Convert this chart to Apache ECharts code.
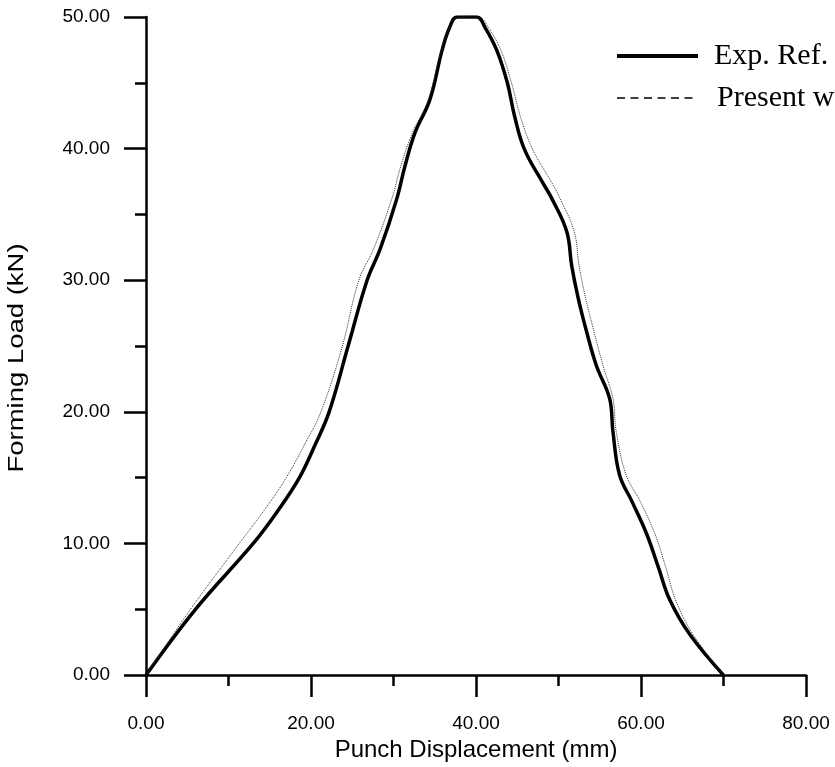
<!DOCTYPE html>
<html>
<head>
<meta charset="utf-8">
<script src="https://cdn.jsdelivr.net/npm/echarts@6/dist/echarts.min.js"></script>
<style>
  html, body { margin: 0; padding: 0; background: #fff; }
  #main { width: 835px; height: 767px; }
</style>
</head>
<body>
<div id="main"></div>
<script>
// measured curve: [displacement mm, load kN]
var expRef = [
  [0, 0], [6.0, 5], [13.0, 10], [16.0, 12.5], [18.6, 15], [20.5, 17.5], [22.2, 20], [24.5, 25],
  [26.8, 30], [28.4, 32.4], [30.4, 36.2], [31.4, 38.7], [32.6, 41.2], [34.4, 43.7],
  [35.9, 47.5], [36.8, 49.2], [37.7, 50], [40.1, 50], [41.1, 49.2], [42.5, 47.5],
  [43.8, 45], [44.7, 42.4], [45.9, 39.9], [48.1, 37.4], [49.2, 36.2], [51.0, 33.7],
  [51.6, 31.1], [52.4, 28.6], [53.4, 26.1], [54.6, 23.5], [56.2, 21.0], [56.6, 18.5],
  [57.4, 15.2], [58.9, 13.2], [60.7, 10.7], [62.1, 8.2], [63.5, 5.7], [65.9, 3.1],
  [70.0, 0]
];
// simulation curve
var presentWork = [
  [0, 0], [5.4, 5], [11.3, 10], [14.3, 12.5], [17.0, 15], [19.2, 17.5], [21.2, 20], [23.8, 25],
  [25.8, 30], [27.6, 32.4], [29.8, 36.2], [30.9, 38.7], [32.3, 41.2], [34.2, 43.7],
  [35.8, 47.5], [36.8, 49.2], [37.8, 50], [40.3, 50], [41.5, 49.2], [43.0, 47.5],
  [44.3, 45], [45.4, 42.4], [46.9, 39.9], [49.2, 37.4], [50.2, 36.2], [51.9, 33.7],
  [52.5, 31.1], [53.3, 28.6], [54.3, 26.1], [55.4, 23.5], [56.6, 21.0], [57.0, 18.5],
  [58.2, 15.2], [59.9, 13.2], [61.7, 10.7], [63.0, 8.2], [64.2, 5.7], [66.3, 3.1],
  [70.0, 0]
];
var xTicks = [0, 80, 20];   // min, max, interval
var yTicks = [0, 50, 10];
var seriesNames = ["Exp. Ref.", "Present work"];

var chart = echarts.init(document.getElementById("main"));
var axisColor = "#000";
var sans = "'Liberation Sans', Arial, sans-serif";
var serif = "'Liberation Serif', 'Times New Roman', serif";

function fmt(v) { return v.toFixed(2); }

function axisStyle(labelMargin) {
  return {
    axisLine: { show: true, onZero: false, lineStyle: { color: axisColor, width: 2.5 } },
    axisTick: { show: true, inside: false, length: 22, lineStyle: { color: axisColor, width: 2.5 } },
    minorTick: { show: true, splitNumber: 2, length: 11, lineStyle: { color: axisColor, width: 2.5 } },
    splitLine: { show: false },
    axisLabel: { margin: labelMargin, fontFamily: sans, fontSize: 19, color: "#000", formatter: fmt }
  };
}

var xAxis = Object.assign({
  type: "value",
  min: xTicks[0], max: xTicks[1], interval: xTicks[2],
  name: "Punch Displacement (mm)",
  nameLocation: "middle",
  nameGap: 56,
  nameTextStyle: { fontFamily: sans, fontSize: 24, color: "#000" }
}, axisStyle(39));

var yAxis = Object.assign({
  type: "value",
  min: yTicks[0], max: yTicks[1], interval: yTicks[2]
}, axisStyle(36));

chart.setOption({
  animation: false,
  grid: { left: 146, right: 29, top: 17, bottom: 89 },
  legend: {
    orient: "vertical",
    left: 610,
    top: 36,
    itemWidth: 81,
    itemHeight: 14,
    itemGap: 12,
    itemStyle: { opacity: 0 },
    textStyle: { fontFamily: serif, fontSize: 30, color: "#000" },
    data: [
      { name: seriesNames[0], lineStyle: { color: "#000", width: 4 },
        textStyle: { padding: [0, 0, 0, 11] } },
      { name: seriesNames[1], lineStyle: { color: "#000", width: 1.5, type: [8, 5.5] },
        textStyle: { padding: [0, 0, 0, 14] } }
    ]
  },
  graphic: [{
    type: "text",
    x: 17,
    y: 358,
    rotation: Math.PI / 2,
    scaleX: 1.25,
    style: {
      text: "Forming Load (kN)",
      font: "22px " + sans,
      fill: "#000",
      align: "center",
      verticalAlign: "middle"
    }
  }],
  xAxis: xAxis,
  yAxis: yAxis,
  series: [
    {
      name: seriesNames[0],
      type: "line",
      data: expRef,
      symbol: "none",
      smooth: 0.4,
      lineStyle: { color: "#000", width: 3.5 },
      itemStyle: { color: "#000" }
    },
    {
      name: seriesNames[1],
      type: "line",
      data: presentWork,
      symbol: "none",
      smooth: 0.4,
      lineStyle: { color: "#333", width: 1, type: "dotted" },
      itemStyle: { color: "#333" }
    }
  ]
});
</script>
</body>
</html>
